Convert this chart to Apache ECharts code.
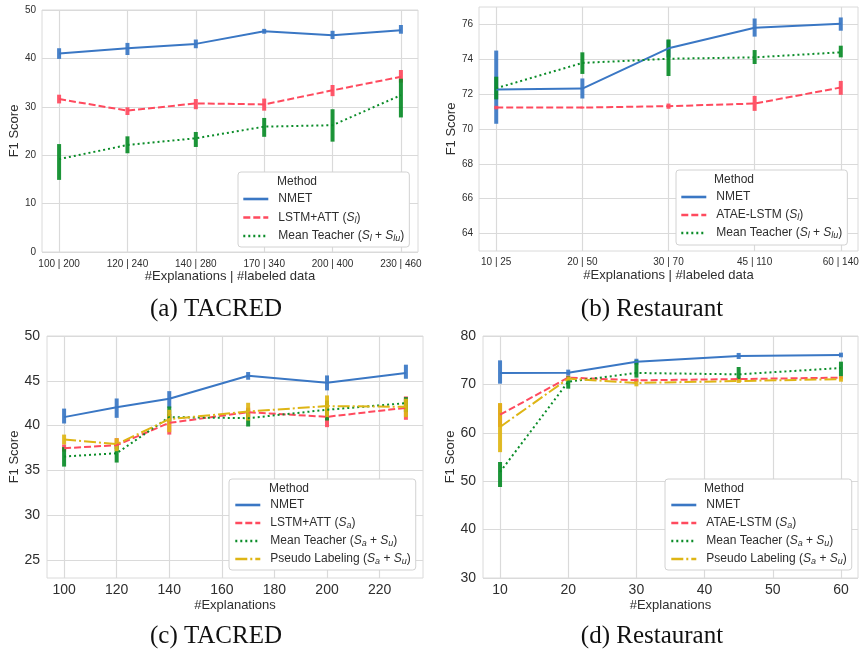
<!DOCTYPE html>
<html><head><meta charset="utf-8">
<script src="https://cdn.jsdelivr.net/npm/echarts@6/dist/echarts.min.js"></script>
<style>html,body{margin:0;padding:0;background:#fff}#c{width:859px;height:649px}</style>
</head><body><div id="c"></div>
<script>
// ---------- Panel (a) TACRED ----------
const aCats = ['100 | 200','120 | 240','140 | 280','170 | 340','200 | 400','230 | 460'];
const aNMET = [41.0, 42.1, 43.0, 45.6, 44.8, 45.8];
const aNMETLo = [39.9, 40.7, 42.1, 45.1, 44.0, 45.1];
const aNMETHi = [42.1, 43.2, 43.9, 46.1, 45.7, 46.9];
const aLSTM = [31.6, 29.2, 30.7, 30.5, 33.4, 36.2];
const aLSTMLo = [30.7, 28.3, 29.5, 29.2, 32.2, 35.0];
const aLSTMHi = [32.5, 29.9, 31.6, 31.7, 34.5, 37.6];
const aMT = [19.2, 22.1, 23.5, 25.9, 26.2, 32.4];
const aMTLo = [14.9, 20.4, 21.7, 23.8, 22.8, 27.8];
const aMTHi = [22.3, 23.9, 24.8, 27.7, 29.5, 35.8];
const aYTicks = [0, 10, 20, 30, 40, 50];

// ---------- Panel (b) Restaurant ----------
const bCats = ['10 | 25','20 | 50','30 | 70','45 | 110','60 | 140'];
const bNMET = [72.26, 72.32, 74.63, 75.81, 76.04];
const bNMETLo = [70.3, 71.75, 74.1, 75.3, 75.64];
const bNMETHi = [74.5, 72.9, 75.1, 76.34, 76.4];
const bATAE = [71.23, 71.23, 71.31, 71.46, 72.38];
const bATAELo = [71.13, 71.18, 71.16, 71.04, 71.96];
const bATAEHi = [71.33, 71.28, 71.46, 71.9, 72.76];
const bMT = [72.34, 73.79, 74.03, 74.11, 74.4];
const bMTLo = [71.7, 73.16, 73.04, 73.73, 74.11];
const bMTHi = [73.0, 74.4, 75.14, 74.53, 74.78];
const bYTicks = [64, 66, 68, 70, 72, 74, 76];

// ---------- Panel (c) TACRED ----------
const cX = [100, 120, 140, 170, 200, 230];
const cNMET = [40.95, 42.06, 43.0, 45.57, 44.78, 45.86];
const cNMETLo = [40.24, 40.87, 41.99, 45.12, 43.93, 45.23];
const cNMETHi = [41.9, 43.03, 43.85, 45.98, 45.6, 46.8];
const cLSTM = [37.48, 37.82, 40.31, 41.5, 40.98, 41.99];
const cLSTMLo = [37.1, 37.4, 39.0, 40.95, 39.83, 40.65];
const cLSTMHi = [37.9, 38.6, 41.3, 42.0, 41.99, 43.26];
const cMT = [36.55, 36.92, 40.95, 40.83, 41.77, 42.51];
const cMTLo = [35.43, 35.88, 40.46, 39.9, 40.57, 41.5];
const cMTHi = [37.6, 37.89, 42.14, 41.77, 42.8, 43.18];
const cPL = [38.45, 37.93, 40.72, 41.58, 42.18, 42.1];
const cPLLo = [37.9, 37.15, 39.27, 40.57, 40.95, 40.95];
const cPLHi = [39.0, 38.6, 41.77, 42.55, 43.37, 43.0];
const cXTicks = [100, 120, 140, 160, 180, 200, 220];
const cYTicks = [25, 30, 35, 40, 45, 50];

// ---------- Panel (d) Restaurant ----------
const dX = [10, 20, 30, 45, 60];
const dNMET = [72.36, 72.42, 74.7, 75.87, 76.07];
const dNMETLo = [70.15, 71.8, 74.08, 75.25, 75.6];
const dNMETHi = [74.97, 73.05, 75.3, 76.5, 76.56];
const dATAE = [63.75, 71.4, 70.84, 71.1, 71.4];
const dATAELo = [61.2, 71.0, 70.5, 70.8, 71.1];
const dATAEHi = [66.0, 71.8, 71.2, 71.4, 71.7];
const dMT = [51.9, 70.56, 72.36, 72.08, 73.39];
const dMTLo = [48.8, 69.12, 71.4, 70.98, 71.67];
const dMTHi = [53.97, 71.67, 74.97, 73.6, 74.7];
const dPL = [61.2, 71.2, 70.29, 70.7, 71.1];
const dPLLo = [56.0, 70.8, 69.6, 70.3, 70.56];
const dPLHi = [66.16, 71.6, 70.98, 71.1, 71.67];
const dXTicks = [10, 20, 30, 40, 50, 60];
const dYTicks = [30, 40, 50, 60, 70, 80];

// ---------- styles ----------
const BLUE = '#3a77c4', RED = '#ff4a5e', GREEN = '#0a8c28', GOLD = '#deb515';
const FONT = 'Liberation Sans, Arial, sans-serif';
const SERIF = 'Liberation Serif, Times New Roman, serif';
const TXT = '#2e2e2e';
const GRIDC = '#dadada';
const SOLID = 'solid', DASH = [7, 3], DOT = [2, 3], DASHDOT = [12, 3, 2, 3];

const legendRich = {
  'NMET': 'NMET',
  'LSTM+ATT (Sl)': 'LSTM+ATT ({i|S}{s|l})',
  'ATAE-LSTM (Sl)': 'ATAE-LSTM ({i|S}{s|l})',
  'Mean Teacher (Sl+Slu)': 'Mean Teacher ({i|S}{s|l} + {i|S}{s|lu})',
  'LSTM+ATT (Sa)': 'LSTM+ATT ({i|S}{s|a})',
  'ATAE-LSTM (Sa)': 'ATAE-LSTM ({i|S}{s|a})',
  'Mean Teacher (Sa+Su)': 'Mean Teacher ({i|S}{s|a} + {i|S}{s|u})',
  'Pseudo Labeling (Sa+Su)': 'Pseudo Labeling ({i|S}{s|a} + {i|S}{s|u})'
};

function pairs(xs, ys) { return ys.map((y, i) => [xs[i], y]); }
function idx(n) { return Array.from({length: n}, (_, i) => i); }
function triples(xs, lo, hi) { return lo.map((l, i) => [xs[i], l, hi[i]]); }

const series = [];
function addSeries(gi, name, xs, ys, lo, hi, color, type) {
  series.push({
    type: 'line', name: name, xAxisIndex: gi, yAxisIndex: gi,
    data: pairs(xs, ys), symbol: 'none', showSymbol: false,
    lineStyle: {color: color, width: 2, type: type, cap: 'butt'},
    itemStyle: {color: color}, emphasis: {disabled: true}, animation: false
  });
  series.push({
    type: 'custom', name: name + ' err', xAxisIndex: gi, yAxisIndex: gi,
    data: triples(xs, lo, hi), animation: false, silent: true,
    encode: {x: 0, y: [1, 2]},
    renderItem: function (params, api) {
      const p1 = api.coord([api.value(0), api.value(1)]);
      const p2 = api.coord([api.value(0), api.value(2)]);
      return {type: 'line', shape: {x1: p1[0], y1: p1[1], x2: p2[0], y2: p2[1]},
        style: {stroke: color, lineWidth: 4, opacity: 0.92}};
    }
  });
}
const ax = idx(aCats.length), bx = idx(bCats.length);
addSeries(0, 'NMET', ax, aNMET, aNMETLo, aNMETHi, BLUE, SOLID);
addSeries(0, 'LSTM+ATT (Sl)', ax, aLSTM, aLSTMLo, aLSTMHi, RED, DASH);
addSeries(0, 'Mean Teacher (Sl+Slu)', ax, aMT, aMTLo, aMTHi, GREEN, DOT);
addSeries(1, 'NMET', bx, bNMET, bNMETLo, bNMETHi, BLUE, SOLID);
addSeries(1, 'ATAE-LSTM (Sl)', bx, bATAE, bATAELo, bATAEHi, RED, DASH);
addSeries(1, 'Mean Teacher (Sl+Slu)', bx, bMT, bMTLo, bMTHi, GREEN, DOT);
addSeries(2, 'NMET', cX, cNMET, cNMETLo, cNMETHi, BLUE, SOLID);
addSeries(2, 'LSTM+ATT (Sa)', cX, cLSTM, cLSTMLo, cLSTMHi, RED, DASH);
addSeries(2, 'Mean Teacher (Sa+Su)', cX, cMT, cMTLo, cMTHi, GREEN, DOT);
addSeries(2, 'Pseudo Labeling (Sa+Su)', cX, cPL, cPLLo, cPLHi, GOLD, DASHDOT);
addSeries(3, 'NMET', dX, dNMET, dNMETLo, dNMETHi, BLUE, SOLID);
addSeries(3, 'ATAE-LSTM (Sa)', dX, dATAE, dATAELo, dATAEHi, RED, DASH);
addSeries(3, 'Mean Teacher (Sa+Su)', dX, dMT, dMTLo, dMTHi, GREEN, DOT);
addSeries(3, 'Pseudo Labeling (Sa+Su)', dX, dPL, dPLLo, dPLHi, GOLD, DASHDOT);

function grid(l, t, w, h) {
  return {left: l, top: t, width: w, height: h, show: true, backgroundColor: '#fff',
    borderColor: GRIDC, borderWidth: 1, containLabel: false, outerBoundsMode: 'none'};
}
function xAxis(gi, min, max, ticks, fmt, fs, margin, name, nameGap) {
  return {type: 'value', gridIndex: gi, min: min, max: max,
    axisLine: {show: false}, axisTick: {show: false, customValues: ticks},
    splitLine: {show: true, lineStyle: {color: GRIDC, width: 1.2}},
    axisLabel: {customValues: ticks, formatter: fmt, fontSize: fs, color: TXT, fontFamily: FONT, margin: margin, hideOverlap: false, showMinLabel: true, showMaxLabel: true},
    name: name, nameLocation: 'middle', nameGap: nameGap,
    nameTextStyle: {fontSize: 13, color: TXT, fontFamily: FONT}};
}
function yAxis(gi, min, max, ticks, fs, margin, nameGap) {
  return {type: 'value', gridIndex: gi, min: min, max: max,
    axisLine: {show: false}, axisTick: {show: false, customValues: ticks},
    splitLine: {show: true, lineStyle: {color: GRIDC, width: 1.2}},
    axisLabel: {customValues: ticks, fontSize: fs, color: TXT, fontFamily: FONT, margin: margin, showMinLabel: true, showMaxLabel: true},
    name: 'F1 Score', nameLocation: 'middle', nameGap: nameGap, nameRotate: 90,
    nameTextStyle: {fontSize: 13, color: TXT, fontFamily: FONT}};
}
function legend(names, left, top, pad, gap, fs) {
  return {show: true, data: names, orient: 'vertical', left: left, top: top, padding: pad,
    itemGap: gap, itemWidth: 25, itemHeight: 10, selectedMode: false,
    itemStyle: {opacity: 0, borderWidth: 0},
    lineStyle: {width: 2.6},
    backgroundColor: '#fff', borderColor: '#d2d2d2', borderWidth: 1, borderRadius: 3,
    formatter: n => legendRich[n],
    textStyle: {fontSize: fs, color: TXT, fontFamily: FONT, lineHeight: 14, padding: [0, 0, 0, 5],
      rich: {
        i: {fontSize: fs, fontStyle: 'italic', fontFamily: FONT, color: TXT, lineHeight: 14},
        s: {fontSize: fs - 3, fontStyle: 'italic', fontFamily: FONT, color: TXT, lineHeight: 14, verticalAlign: 'bottom', padding: [4, 0, 0, 0]}
      }}};
}
function label(x, y, text, size, family) {
  return {type: 'text', x: x, y: y, z: 100, silent: true,
    style: {text: text, fontSize: size, fontFamily: family, fill: '#111', align: 'center', verticalAlign: 'middle'}};
}
function mtitle(x, y, fs) {
  return {type: 'text', x: x, y: y, z: 100, silent: true,
    style: {text: 'Method', fontSize: fs, fontFamily: FONT, fill: TXT, align: 'left', verticalAlign: 'middle'}};
}

const option = {
  animation: false,
  backgroundColor: '#fff',
  grid: [grid(42, 10, 376, 242), grid(479, 7, 379, 244), grid(47, 336, 376, 242), grid(483, 336, 375, 242)],
  xAxis: [
    xAxis(0, -0.25, 5.25, ax, v => aCats[Math.round(v)], 10, 7, '#Explanations | #labeled data', 18),
    xAxis(1, -0.2, 4.2, bx, v => bCats[Math.round(v)], 10, 6, '#Explanations | #labeled data', 18),
    xAxis(2, 93.5, 236.5, cXTicks, null, 14, 5, '#Explanations', 21),
    xAxis(3, 7.5, 62.5, dXTicks, null, 14, 5, '#Explanations', 21)
  ],
  yAxis: [
    yAxis(0, 0, 50, aYTicks, 10, 6, 20),
    yAxis(1, 63, 77, bYTicks, 10, 6, 21),
    yAxis(2, 23, 50, cYTicks, 14, 7, 25),
    yAxis(3, 30, 80, dYTicks, 14, 7, 26)
  ],
  legend: [
    legend(['NMET', 'LSTM+ATT (Sl)', 'Mean Teacher (Sl+Slu)'], 238, 172, [20, 5, 4, 4], 4.5, 12),
    legend(['NMET', 'ATAE-LSTM (Sl)', 'Mean Teacher (Sl+Slu)'], 676, 170, [20, 5, 5, 4], 4, 12),
    legend(['NMET', 'LSTM+ATT (Sa)', 'Mean Teacher (Sa+Su)', 'Pseudo Labeling (Sa+Su)'], 229, 479, [19, 5, 4, 5], 4, 12),
    legend(['NMET', 'ATAE-LSTM (Sa)', 'Mean Teacher (Sa+Su)', 'Pseudo Labeling (Sa+Su)'], 665, 479, [19, 5, 4, 5], 4, 12)
  ],
  graphic: [
    mtitle(277, 182, 12), mtitle(714, 180, 12), mtitle(269, 489, 12), mtitle(704, 489, 12),
    label(216, 309, '(a) TACRED', 25, SERIF),
    label(652, 309, '(b) Restaurant', 25, SERIF),
    label(216, 636, '(c) TACRED', 25, SERIF),
    label(652, 636, '(d) Restaurant', 25, SERIF)
  ],
  series: series
};
const chart = echarts.init(document.getElementById('c'), null, {renderer: 'canvas'});
chart.setOption(option);
</script></body></html>
